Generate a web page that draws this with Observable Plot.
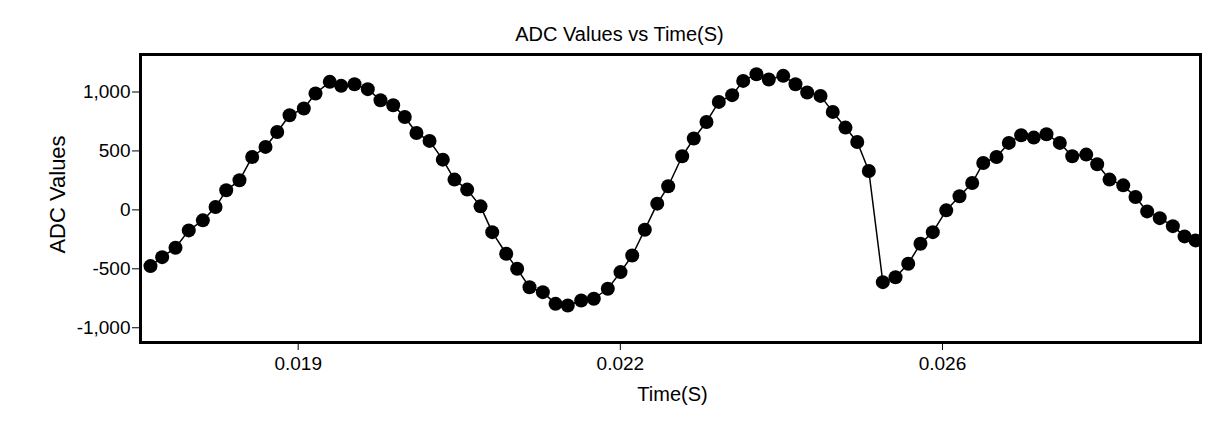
<!DOCTYPE html>
<html>
<head>
<meta charset="utf-8">
<script src="https://cdn.jsdelivr.net/npm/d3@7"></script>
<script src="https://cdn.jsdelivr.net/npm/@observablehq/plot@0.6"></script>
<style>
  html, body { margin: 0; padding: 0; background: #ffffff; }
  #chart { width: 1227px; height: 448px; }
</style>
</head>
<body>
<div id="chart"></div>
<script>
const titleText = "ADC Values vs Time(S)";
const xLabel = "Time(S)";
const yLabel = "ADC Values";

const timeS = [0.017395, 0.017522, 0.017667, 0.017811, 0.017964, 0.018102, 0.018218, 0.018362, 0.018500, 0.018645,
  0.018772, 0.018906, 0.019061, 0.019188, 0.019343, 0.019467, 0.019612, 0.019756, 0.019894, 0.020032,
  0.020158, 0.020285, 0.020427, 0.020571, 0.020698, 0.020836, 0.020981, 0.021108, 0.021260, 0.021379,
  0.021513, 0.021658, 0.021796, 0.021929, 0.022075, 0.022212, 0.022364, 0.022502, 0.022629, 0.022766,
  0.022901, 0.023020, 0.023172, 0.023298, 0.023436, 0.023570, 0.023715, 0.023835, 0.023979, 0.024113,
  0.024270, 0.024403, 0.024530, 0.024675, 0.024808, 0.024946, 0.025074, 0.025200, 0.025352, 0.025490,
  0.025628, 0.025761, 0.025895, 0.026041, 0.026185, 0.026323, 0.026443, 0.026587, 0.026721, 0.026855,
  0.026992, 0.027130, 0.027275, 0.027410, 0.027562, 0.027681, 0.027815, 0.027964, 0.028097, 0.028224,
  0.028361, 0.028503, 0.028630, 0.028749];

const adcValues = [-477, -401, -321, -174, -89, 24, 166, 251, 449, 534,
  661, 803, 860, 987, 1086, 1052, 1066, 1024, 930, 888,
  788, 652, 585, 426, 257, 172, 30, -189, -372, -500,
  -656, -698, -797, -811, -769, -754, -669, -528, -387, -168,
  53, 200, 455, 605, 746, 916, 973, 1094, 1151, 1106,
  1137, 1066, 996, 967, 831, 698, 576, 330, -613, -571,
  -457, -287, -189, -4, 115, 228, 398, 449, 568, 633,
  613, 641, 568, 455, 469, 387, 257, 208, 109, -13,
  -70, -138, -225, -259];

const xTicks = [0.019, 0.0225, 0.026];
const xTickLabels = ["0.019", "0.022", "0.026"];
const yTicks = [-1000, -500, 0, 500, 1000];
const yTickLabels = ["-1,000", "-500", "0", "500", "1,000"];
const xDomain = [0.0172866, 0.0288035];
const yDomain = [-1125, 1318];

const data = timeS.map((t, i) => ({t, v: adcValues[i]}));

const chart = Plot.plot({
  width: 1227,
  height: 448,
  marginLeft: 140,
  marginRight: 27,
  marginTop: 54,
  marginBottom: 106,
  style: {fontFamily: "'Liberation Sans', Arial, sans-serif", fontSize: "19px", background: "#ffffff", color: "#000"},
  x: {domain: xDomain},
  y: {domain: yDomain},
  marks: [
    Plot.line(data, {x: "t", y: "v", stroke: "#000", strokeWidth: 1.5, clip: true}),
    Plot.dot(data, {x: "t", y: "v", r: 7, fill: "#000", stroke: "none", clip: true}),
    Plot.frame({stroke: "#000", strokeWidth: 3}),
    Plot.axisX(xTicks, {tickFormat: d => xTickLabels[xTicks.indexOf(d)], tickSize: 8, tickPadding: 6, label: null, fontSize: 19}),
    Plot.axisY(yTicks, {tickFormat: d => yTickLabels[yTicks.indexOf(d)], tickSize: 8, tickPadding: 2, label: null, fontSize: 19}),
    Plot.text([titleText], {frameAnchor: "top", lineAnchor: "middle", textAnchor: "middle", dx: -51, dy: -20, fontSize: 20, fill: "#000"}),
    Plot.text([xLabel], {frameAnchor: "bottom", lineAnchor: "middle", textAnchor: "middle", dx: 2, dy: 52, fontSize: 20, fill: "#000"}),
    Plot.text([yLabel], {frameAnchor: "left", lineAnchor: "middle", textAnchor: "middle", dx: -83, dy: -4, rotate: -90, fontSize: 22, fill: "#000"})
  ]
});
document.getElementById("chart").appendChild(chart);
</script>
</body>
</html>
